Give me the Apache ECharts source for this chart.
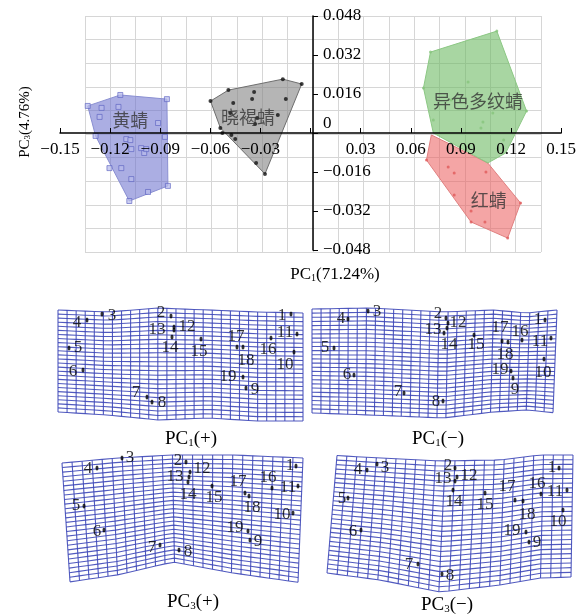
<!DOCTYPE html>
<html><head><meta charset="utf-8">
<script src="https://cdn.jsdelivr.net/npm/echarts@6/dist/echarts.min.js"></script>
<style>html,body{margin:0;padding:0;background:#fff}#c{width:579px;height:614px}</style>
</head><body><div id="c"></div><script>
// ---------- PCA score plot (PC1 vs PC3) ----------
const groupNames = ['黄蜻', '晓褐蜻', '异色多纹蜻', '红蜻'];
const hullHuang = [[-0.1334,0.0111],[-0.1139,0.0156],[-0.0860,0.0139],[-0.0854,-0.0217],[-0.1085,-0.0279],[-0.1287,-0.0012]];
const hullXiao  = [[-0.0599,0.0131],[-0.0492,0.0176],[-0.0166,0.0221],[-0.0053,0.0201],[-0.0273,-0.0168],[-0.0540,0.0021]];
const hullYise  = [[0.0718,0.0332],[0.1115,0.0418],[0.1293,0.0090],[0.1168,-0.0082],[0.1061,-0.0123],[0.0735,0.0000],[0.0676,0.0185]];
const hullHong  = [[0.0723,-0.0008],[0.0694,-0.0111],[0.0961,-0.0365],[0.1180,-0.0431],[0.1257,-0.0287],[0.1061,-0.0123]];
const ptsHuang = [[-0.1251,0.0103],[-0.1150,0.0107],[-0.1263,0.0066],[-0.0913,0.0041],[-0.1103,-0.0025],[-0.1079,-0.0029],[-0.1073,-0.0066],[-0.0996,-0.0082],[-0.0984,-0.0066],[-0.1204,-0.0144],[-0.1133,-0.0144],[-0.1073,-0.0189],[-0.0973,-0.0242],[-0.0872,-0.0016],[-0.1014,-0.0062],[-0.1139,0.0156],[-0.0860,0.0139],[-0.0854,-0.0217],[-0.1085,-0.0279],[-0.1287,-0.0012],[-0.1334,0.0111]];
const ptsXiao = [[-0.0338,0.0168],[-0.0350,0.0139],[-0.0463,0.0123],[-0.0148,0.0139],[-0.0320,0.0062],[-0.0332,0.0037],[-0.0196,0.0074],[-0.0480,0.0082],[-0.0528,0.0000],[-0.0474,-0.0008],[-0.0451,-0.0025],[-0.0326,-0.0123],[-0.0599,0.0131],[-0.0492,0.0176],[-0.0166,0.0221],[-0.0053,0.0201],[-0.0273,-0.0168],[-0.0540,0.0021]];
const ptsYise = [[0.0943,0.0209],[0.1032,0.0045],[0.1020,0.0021],[0.1156,-0.0029],[0.0735,0.0053],[0.1091,0.0082],[0.0842,0.0135],[0.0718,0.0332],[0.1115,0.0418],[0.1293,0.0090],[0.0676,0.0185]];
const ptsHong = [[0.0824,-0.0139],[0.0860,-0.0164],[0.1050,-0.0160],[0.0860,-0.0254],[0.0961,-0.0320],[0.1044,-0.0365],[0.0694,-0.0111],[0.0961,-0.0365],[0.1180,-0.0431],[0.1257,-0.0287]];
const groupLabelPos = [[-0.1079,0.0053],[-0.0374,0.0066],[0.1002,0.0131],[0.1067,-0.0275]];
const xRange = [-0.15, 0.15], xStep = 0.03;
const yRange = [-0.048, 0.048], yStep = 0.016;
const xTitle = ['PC', '1', '(71.24%)'];
const yTitle = ['PC', '3', '(4.76%)'];

// ---------- deformation grids (local panel units) ----------
const panelTitles = [['PC','1','(+)'],['PC','1','(−)'],['PC','3','(+)'],['PC','3','(−)']];
const lmP1 = [[236,14],[116,16],[47,14],[32,20],[14,48],[28,70],[92,97],[97,102],[191,88],[239,52],[242,34],[119,27],[119,30],[117,37],[146,39],[216,38],[182,47],[188,47],[188,77]];
const lbP1 = [[227,16],[106,13],[57,16],[22,23],[23,48],[18,72],[81,93],[107,103],[200,90],[230,65],[230,33],[132,27],[102,30],[115,48],[144,52],[213,50],[181,37],[191,61],[173,77]];
const lmP2 = [[240,20],[141,18],[63,11],[43,19],[29,48],[49,75],[99,93],[138,101],[208,78],[239,59],[246,38],[143,23],[142,28],[139,33],[169,35],[217,40],[197,41],[203,42],[206,71]];
const lbP2 = [[233,20],[133,14],[72,12],[36,19],[20,48],[42,75],[93,92],[131,102],[210,90],[238,73],[235,42],[153,23],[128,30],[144,45],[171,45],[215,32],[195,28],[200,55],[195,70]];
const lmP3 = [[241,16],[131,12],[67,8],[42,18],[29,56],[49,80],[105,95],[124,100],[195,90],[238,63],[243,36],[135,22],[134,27],[133,32],[157,36],[217,38],[190,43],[194,46],[193,81]];
const lbP3 = [[235,16],[123,11],[75,8],[33,19],[21,56],[42,82],[97,98],[133,102],[203,92],[227,65],[233,38],[147,19],[120,27],[133,45],[159,48],[213,28],[183,32],[197,58],[180,78]];
const lmP4 = [[254,18],[150,18],[72,14],[62,20],[43,48],[56,80],[113,114],[137,124],[224,92],[258,60],[262,40],[152,27],[150,31],[148,40],[180,43],[236,44],[210,50],[218,51],[221,82]];
const lbP4 = [[247,18],[143,16],[80,18],[53,20],[37,49],[48,82],[104,115],[145,126],[232,93],[253,72],[250,42],[164,26],[138,29],[149,52],[180,55],[232,34],[202,37],[222,65],[207,81]];
// outlines: stations x, top y, bottom y, left edge [xTop,xBottom], right edge [xTop,xBottom], columns, rows
const outlineX   = [[3,53,103,153,203,248],[7,65,138,188,222,252],[7,62,118,178,248],[22,75,135,195,235,268]];
const outlineTop = [[10,12,8,10,12,13],[9,8,12,10,13,10],[13,8,5,5,8],[5,8,11,10,5,5]];
const outlineBot = [[112,115,120,118,121,121],[113,115,118,112,110,113],[133,125,112,123,133],[123,130,142,135,128,127]];
const outlineLeft  = [[3,3],[7,7],[7,15],[32,22]];
const outlineRight = [[248,248],[252,248],[248,243],[268,266]];
const gridCols = [27,27,24,24];
const gridRows = [25,25,26,26];

const SERIF = 'Liberation Serif';
const CJK = 'Noto Sans CJK SC';
const panelOrigin = [[55,300],[305,300],[55,450],[305,450]];
const titlePos = [[191,437],[438,437],[193,600],[447,603]];

function interp(xs, ys, x){
  if (x <= xs[0]) return ys[0];
  for (let i=1;i<xs.length;i++){ if (x <= xs[i]){ const t=(x-xs[i-1])/(xs[i]-xs[i-1]); return ys[i-1]+t*(ys[i]-ys[i-1]); } }
  return ys[ys.length-1];
}
function gridLines(p){
  const C=gridCols[p], R=gridRows[p], xs=outlineX[p];
  const tops=[], bots=[];
  for (let i=0;i<=C;i++){
    const u=i/C;
    const xt=outlineLeft[p][0]+u*(outlineRight[p][0]-outlineLeft[p][0]);
    const xb=outlineLeft[p][1]+u*(outlineRight[p][1]-outlineLeft[p][1]);
    tops.push([xt, interp(xs, outlineTop[p], xt)]);
    bots.push([xb, interp(xs, outlineBot[p], xb)]);
  }
  const out=[];
  for (let i=0;i<=C;i++) out.push({coords:[tops[i], bots[i]]});
  for (let j=0;j<=R;j++){
    const v=j/R, pts=[];
    for (let i=0;i<=C;i++) pts.push([tops[i][0]+v*(bots[i][0]-tops[i][0]), tops[i][1]+v*(bots[i][1]-tops[i][1])]);
    out.push({coords:pts});
  }
  return out;
}
function hull(verts, fill, stroke){
  return {type:'custom', xAxisIndex:0, yAxisIndex:0, data:verts, encode:{x:0,y:1}, silent:true, z:2,
    renderItem:(params, api)=>{
      if (params.dataIndex!==0) return null;
      return {type:'polygon', shape:{points:verts.map(v=>api.coord(v))}, style:{fill:fill, stroke:stroke, lineWidth:1}};
    }};
}
function pts(data, symbol, size, color, border){
  return {type:'scatter', xAxisIndex:0, yAxisIndex:0, data:data, symbol:symbol, symbolSize:size, silent:true, z:3,
    itemStyle:{color:color, borderColor:border||color, borderWidth:border?0.8:0}};
}
function richTitle(t){ return '{n|'+t[0]+'}{s|'+t[1]+'}{n|'+t[2]+'}'; }
function richStyle(fs){
  return {
    n:{fontSize:fs, fontFamily:SERIF, lineHeight:fs+4, verticalAlign:'bottom', fill:'#000', color:'#000'},
    s:{fontSize:Math.round(fs*0.6), fontFamily:SERIF, lineHeight:Math.round(fs*0.65), verticalAlign:'bottom', fill:'#000', color:'#000'}
  };
}

const main = {left:60, top:16, width:506, height:234};
// pixel offsets to move each axis to the other axis' zero (axes cross at origin)
const xZeroOffset = -main.height * (0 - yRange[0]) / (yRange[1] - yRange[0]);
const yZeroOffset = -main.width * (0 - xRange[0]) / (xRange[1] - xRange[0]);
const grids=[
  main,
  {left:85, top:16, width:456, height:236}
];
const xAxes=[
  {gridIndex:0, type:'value', position:'bottom', offset:xZeroOffset, min:xRange[0], max:xRange[1], interval:xStep, z:10,
   axisLine:{onZero:false, lineStyle:{color:'#000', width:1.5}},
   axisTick:{inside:true, length:5, lineStyle:{color:'#000', width:1}},
   axisLabel:{margin:8, color:'#000', fontSize:17, fontFamily:SERIF,
     formatter:v=>Math.abs(v)<1e-9?'':v.toFixed(2).replace('-','−')},
   splitLine:{show:false}},
  {gridIndex:1, type:'value', min:-9, max:9, interval:1, axisLine:{show:false}, axisTick:{show:false}, axisLabel:{show:false},
   splitLine:{show:true, lineStyle:{color:'#d6d6d6', width:1}}}
];
const yAxes=[
  {gridIndex:0, type:'value', position:'left', offset:yZeroOffset, min:yRange[0], max:yRange[1], interval:yStep, z:10,
   axisLine:{onZero:false, lineStyle:{color:'#000', width:1.5}},
   axisTick:{inside:true, length:5, lineStyle:{color:'#000', width:1}},
   axisLabel:{inside:true, margin:10, color:'#000', fontSize:17, fontFamily:SERIF,
     formatter:v=>Math.abs(v)<1e-9?'{z|0}':v.toFixed(3).replace('-','−'),
     rich:{z:{fontSize:17, fontFamily:SERIF, color:'#000', padding:[0,0,18,0]}}},
   splitLine:{show:false}},
  {gridIndex:1, type:'value', min:-5, max:5, interval:1, axisLine:{show:false}, axisTick:{show:false}, axisLabel:{show:false},
   splitLine:{show:true, lineStyle:{color:'#d6d6d6', width:1}}}
];
const series=[
  hull(hullHuang,'rgba(105,110,205,0.56)','#8a8fd2'),
  hull(hullXiao,'rgba(135,135,135,0.62)','#6e6e6e'),
  hull(hullHong,'rgba(235,95,95,0.56)','#e08080'),
  hull(hullYise,'rgba(105,185,95,0.58)','#8cc884'),
  pts(ptsHuang,'rect',5,'rgba(185,188,235,0.9)','#5a60c0'),
  pts(ptsXiao,'circle',4,'#111'),
  pts(ptsYise,'circle',3,'#86c47c'),
  pts(ptsHong,'circle',3,'#e05a5a'),
  {type:'scatter', xAxisIndex:0, yAxisIndex:0, symbolSize:0, silent:true, z:5,
   data:groupNames.map((n,i)=>({name:n, value:groupLabelPos[i]})),
   label:{show:true, position:'inside', formatter:'{b}', color:'#333', fontSize:18, fontFamily:CJK}}
];
const lmSets=[lmP1,lmP2,lmP3,lmP4], lbSets=[lbP1,lbP2,lbP3,lbP4];
for (let p=0;p<4;p++){
  grids.push({left:panelOrigin[p][0], top:panelOrigin[p][1], width:270, height:150});
  const gi=p+2;
  xAxes.push({gridIndex:gi, type:'value', min:0, max:270, show:false});
  yAxes.push({gridIndex:gi, type:'value', min:0, max:150, inverse:true, show:false});
  series.push({type:'lines', coordinateSystem:'cartesian2d', xAxisIndex:gi, yAxisIndex:gi, polyline:true, silent:true, z:2,
    data:gridLines(p), lineStyle:{color:'#3e48b8', width:1.1, opacity:0.9}});
  series.push({type:'scatter', xAxisIndex:gi, yAxisIndex:gi, data:lmSets[p], symbol:'circle', symbolSize:[3,5], silent:true, z:4,
    itemStyle:{color:'#000'}});
  series.push({type:'scatter', xAxisIndex:gi, yAxisIndex:gi, symbolSize:0, silent:true, z:5,
    data:lbSets[p].map((c,i)=>({name:String(i+1), value:c})),
    label:{show:true, position:'inside', formatter:'{b}', color:'#000', fontSize:17, fontFamily:SERIF}});
}
const graphics=[
  {type:'text', x:335, y:273, style:{text:richTitle(xTitle), rich:richStyle(17), align:'center', verticalAlign:'middle'}},
  {type:'text', x:23, y:122, rotation:Math.PI/2, style:{text:richTitle(yTitle), rich:richStyle(15), align:'center', verticalAlign:'middle'}}
];
for (let p=0;p<4;p++) graphics.push({type:'text', x:titlePos[p][0], y:titlePos[p][1], style:{text:richTitle(panelTitles[p]), rich:richStyle(19), align:'center', verticalAlign:'middle'}});

const chart=echarts.init(document.getElementById('c'), null, {renderer:'canvas'});
chart.setOption({animation:false, backgroundColor:'#fff', grid:grids, xAxis:xAxes, yAxis:yAxes, series:series, graphic:graphics});
</script></body></html>
